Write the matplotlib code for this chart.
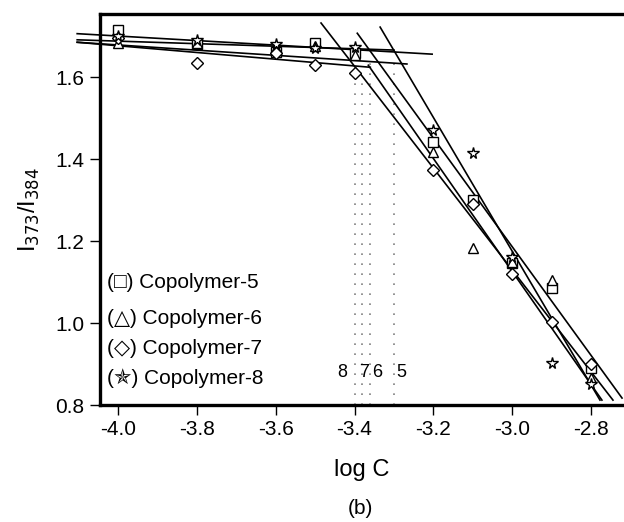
import numpy as np
import matplotlib
matplotlib.use("Agg")
import matplotlib.pyplot as plt

plt.rcParams["font.family"] = ["Liberation Sans", "DejaVu Sans"]

# measured log C values
log_c = [-4.0, -3.8, -3.6, -3.5, -3.4, -3.2, -3.1, -3.0, -2.9, -2.8]

# I373/I384 for each copolymer
cop5 = [1.715, 1.680, 1.662, 1.683, 1.660, 1.441, 1.300, 1.146, 1.085, 0.890]
cop6 = [1.683, 1.683, 1.670, 1.675, 1.655, 1.417, 1.183, 1.150, 1.105, 0.866]
cop7 = [1.695, 1.634, 1.659, 1.629, 1.610, 1.373, 1.290, 1.120, 1.002, 0.900]
cop8 = [1.700, 1.690, 1.680, 1.672, 1.673, 1.471, 1.415, 1.161, 0.902, 0.851]

names = ["Copolymer-5", "Copolymer-6", "Copolymer-7", "Copolymer-8"]
symbols = ["\u25a1", "\u25b3", "\u25c7", "\u272f"]
markers = ["s", "^", "D", "*"]
msizes = [6.5, 7.5, 6, 8.5]

# fitted lines (log C, I373/I384 at both ends)
shallow_x0 = [-4.104, -4.104, -4.104, -4.104]
shallow_y0 = [1.706, 1.691, 1.685, 1.685]
shallow_x1 = [-3.203, -3.300, -3.267, -3.360]
shallow_y1 = [1.656, 1.666, 1.632, 1.624]

steep_x0 = [-3.485, -3.393, -3.335, -3.365]
steep_y0 = [1.732, 1.707, 1.722, 1.629]
steep_x1 = [-2.744, -2.721, -2.777, -2.772]
steep_y1 = [0.812, 0.817, 0.812, 0.812]

# CMC markers
cmc_x = [-3.40, -3.38, -3.36, -3.30]
cmc_top = [1.60, 1.60, 1.64, 1.64]
cmc_labels = ["8", "7", "6", "5"]
cmc_label_x = [-3.431, -3.376, -3.343, -3.282]

fig = plt.figure(figsize=(6.24, 5.22), dpi=100)
ax = fig.add_axes([0.1603, 0.2241, 0.8397, 0.7491])
ax.set_xlim(-4.046, -2.716)
ax.set_ylim(0.8, 1.754)

for vals, m, ms in zip([cop5, cop6, cop7, cop8], markers, msizes):
    ax.plot(log_c, vals, linestyle="none", marker=m, markersize=ms,
            markerfacecolor="white", markeredgecolor="black",
            markeredgewidth=1.0, zorder=3)

for i in range(4):
    ax.plot([shallow_x0[i], shallow_x1[i]], [shallow_y0[i], shallow_y1[i]],
            color="black", lw=1.2, clip_on=False, zorder=2)
    ax.plot([steep_x0[i], steep_x1[i]], [steep_y0[i], steep_y1[i]],
            color="black", lw=1.2, zorder=2)
    ax.plot([cmc_x[i], cmc_x[i]], [0.8, cmc_top[i]], color="gray",
            lw=1.2, linestyle=(0, (1, 5)), zorder=1)
    ax.text(cmc_label_x[i], 0.88, cmc_labels[i], fontsize=13,
            ha="center", va="center")

# legend written as text lines
leg_y = [1.098, 1.012, 0.939, 0.866]
for i in range(4):
    ax.text(-4.028, leg_y[i], "(" + symbols[i] + ") " + names[i],
            fontsize=15, ha="left", va="center")

ax.set_xticks([-4.0, -3.8, -3.6, -3.4, -3.2, -3.0, -2.8])
ax.set_xticklabels(["-4.0", "-3.8", "-3.6", "-3.4", "-3.2", "-3.0", "-2.8"])
ax.set_yticks([0.8, 1.0, 1.2, 1.4, 1.6])
ax.set_yticklabels(["0.8", "1.0", "1.2", "1.4", "1.6"])
ax.tick_params(direction="out", length=7, width=1, labelsize=15, pad=4)

for s in ["left", "bottom", "top"]:
    ax.spines[s].set_linewidth(2.4)
ax.spines["right"].set_visible(False)

ax.set_ylabel("I$_{373}$/I$_{384}$", fontsize=17, labelpad=10)
fig.text(0.58, 1 - 470 / 522, "log C", fontsize=17, ha="center", va="center")
fig.text(0.577, 1 - 508 / 522, "(b)", fontsize=15, ha="center", va="center")

fig.savefig("out.png", dpi=100)
